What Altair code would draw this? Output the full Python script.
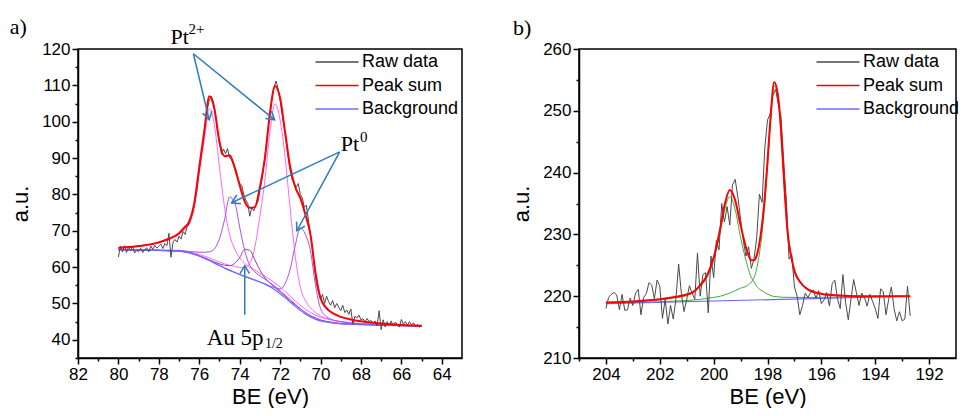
import math
import altair as alt
import pandas as pd

# ---------------- panel a) Pt 4f region ----------------
grid_a = [80, 79, 78, 77.5, 77, 76.75, 76.5, 76.25, 76, 75.75,
          75.5, 75.25, 75, 74.75, 74.5, 74.25, 74, 73.75, 73.5, 73.25,
          73, 72.75, 72.5, 72.25, 72, 71.75, 71.5, 71.25, 71, 70.75,
          70.5, 70.25, 70, 69.75, 69.5, 69, 68.5, 68, 67, 66,
          65]
bg_a = [64.8, 64.7, 64.6, 64.5, 64.4, 64.2, 63.9, 63.5, 63.0, 62.4,
        61.8, 61.1, 60.4, 59.7, 59.1, 58.5, 57.9, 57.4, 56.9, 56.4,
        55.9, 55.3, 54.6, 53.7, 52.7, 51.6, 50.4, 49.2, 48.1, 47.1,
        46.3, 45.7, 45.2, 44.9, 44.7, 44.4, 44.3, 44.2, 44.0, 43.9,
        43.8]
pt2_a1 = [65.2, 65.7, 66.6, 67.6, 69.0, 70.3, 71.7, 76.3, 85.8, 95.0,
          103.7, 99.0, 87.5, 76.5, 69.0, 65.0, 62.6, 61.0, 60.0, 59.2,
          58.3, 57.5, 56.6, 55.6, 54.5, 53.3, 52.0, 50.7, 49.5, 48.4,
          47.5, 46.8, 46.2, 45.8, 45.5, 45.0, 44.7, 44.5, 44.2, 44.0,
          43.9]
pt0_a1 = [64.8, 64.7, 64.6, 64.5, 64.5, 64.4, 64.3, 64.2, 64.1, 64.1,
          64.2, 65.0, 67.8, 73.0, 79.3, 77.8, 71.0, 64.5, 60.5, 58.7,
          57.6, 56.7, 55.7, 54.7, 53.5, 52.3, 51.0, 49.8, 48.6, 47.5,
          46.7, 46.0, 45.5, 45.1, 44.9, 44.5, 44.4, 44.3, 44.1, 43.9,
          43.8]
au_a = [64.8, 64.7, 64.6, 64.5, 64.4, 64.2, 64.0, 63.6, 63.1, 62.6,
        62.0, 61.4, 60.9, 60.5, 60.4, 61.0, 62.6, 64.9, 64.6, 62.0,
        59.2, 57.0, 55.6, 54.4, 53.2, 52.0, 50.8, 49.6, 48.5, 47.5,
        46.6, 46.0, 45.4, 45.1, 44.8, 44.5, 44.3, 44.2, 44.0, 43.9,
        43.8]
pt2_a2 = [64.9, 64.8, 64.8, 64.7, 64.6, 64.5, 64.2, 63.9, 63.5, 63.0,
          62.5, 62.0, 61.4, 60.9, 60.5, 60.2, 59.9, 59.8, 61.0, 65.5,
          74.0, 84.0, 97.4, 104.9, 100.5, 90.0, 76.0, 63.0, 54.5, 50.8,
          48.8, 47.5, 46.6, 46.0, 45.6, 45.0, 44.6, 44.4, 44.1, 43.9,
          43.8]
pt0_a2 = [64.8, 64.7, 64.6, 64.5, 64.4, 64.3, 64.0, 63.6, 63.1, 62.5,
          61.9, 61.2, 60.5, 59.8, 59.2, 58.6, 58.0, 57.5, 57.0, 56.5,
          55.9, 55.4, 54.8, 54.3, 54.0, 55.5, 59.5, 66.0, 70.8, 69.0,
          64.5, 55.0, 48.6, 46.6, 45.7, 45.0, 44.6, 44.4, 44.1, 43.9,
          43.8]
sum_a = [65.3, 65.8, 66.8, 67.8, 69.3, 70.8, 72.5, 77.5, 87.5, 97.5,
         107.0, 103.5, 94.5, 90.5, 90.8, 87.5, 82.5, 78.0, 76.3, 76.5,
         82.0, 90.0, 102.5, 109.8, 106.5, 97.0, 87.5, 82.0, 79.0, 74.5,
         69.0, 58.5, 51.5, 49.0, 47.7, 46.3, 45.6, 45.1, 44.5, 44.1,
         43.9]
raw_a_start, raw_a_step = 80.0, -0.1
raw_a = [62.8, 65.8, 64.2, 65.9, 64.0, 65.5, 64.5, 65.8, 63.9, 64.6,
         64.3, 65.2, 64.0, 64.8, 65.3, 64.2, 65.8, 64.9, 66.0, 65.2,
         65.8, 66.3, 65.1, 66.5, 65.9, 69.3, 62.7, 66.8, 67.6, 66.9,
         68.5, 67.7, 69.8, 69.0, 71.2, 72.0, 73.8, 75.5, 78.5, 82.0,
         87.0, 91.0, 95.0, 99.5, 103.5, 106.0, 107.0, 105.5, 102.0, 97.5,
         94.0, 91.0, 92.5, 91.2, 92.6, 90.0, 89.5, 88.0, 86.0, 84.5,
         83.0, 82.5, 80.0, 78.5, 77.5, 74.0, 76.5, 75.5, 77.0, 78.0,
         81.0, 84.0, 88.5, 93.0, 98.0, 102.0, 106.5, 109.5, 111.2, 109.0,
         106.0, 102.0, 98.5, 94.5, 90.0, 86.5, 84.0, 83.0, 82.0, 83.0,
         80.0, 79.0, 76.5, 77.0, 73.0, 69.0, 65.0, 60.0, 55.5, 53.0,
         51.0, 52.5, 50.0, 52.0, 50.5, 49.5, 50.8, 48.8, 50.0, 49.0,
         48.0, 49.5, 47.5, 48.2, 47.0, 48.5, 44.3, 46.5, 46.0, 46.8,
         45.5, 45.8, 44.8, 45.9, 45.0, 45.3, 44.5, 45.2, 43.8, 48.0,
         42.8, 45.5, 43.5, 45.0, 44.0, 45.2, 43.8, 44.9, 44.2, 43.5,
         45.6, 44.3, 45.0, 44.0, 45.0, 44.1, 44.7, 43.6, 44.2, 43.5,
         44.0]

# annotations a)
ann_a_text = ["a)", "Pt", "2+", "Pt", "0", "Au 5p", "1/2"]
ann_a_x = [85.38, 77.42, 76.53, 69.0, 68.05, 75.63, 72.75]
ann_a_y = [124.0, 121.5, 124.1, 91.95, 94.4, 38.7, 37.8]
ann_a_fs = [22, 22, 15, 22, 15, 23, 14]
arr_a_x1 = [76.29, 76.29, 69.05, 69.05, 73.75]
arr_a_y1 = [118.7, 118.7, 91.7, 91.7, 46.9]
arr_a_x2 = [75.51, 72.27, 74.40, 71.17, 73.75]
arr_a_y2 = [100.5, 100.5, 77.7, 70.0, 60.4]

# ---------------- panel b) ----------------
grid_b = [204, 203, 202, 201.5, 201, 200.75, 200.5, 200.25, 200, 199.75,
          199.6, 199.4, 199.2, 199, 198.75, 198.6, 198.5, 198.4, 198.25, 198.1,
          198, 197.9, 197.75, 197.6, 197.5, 197.4, 197.25, 197.1, 197, 196.75,
          196.5, 196, 195.5, 195, 194, 192.7]
comp_b1 = [218.95, 219.1, 219.4, 219.7, 220.1, 220.6, 221.6, 223.0, 225.8, 230.5,
           233.8, 236.1, 234.0, 229.5, 225.0, 223.0, 222.3, 221.6, 221.0, 220.6,
           220.35, 220.15, 219.95, 219.9, 219.85, 219.83, 219.82, 219.81, 219.8, 219.8,
           219.8, 219.82, 219.86, 219.9, 219.95, 220.02]
comp_b2 = [218.85, 218.95, 219.1, 219.2, 219.3, 219.4, 219.5, 219.65, 219.8, 220.0,
           220.2, 220.5, 220.9, 221.3, 221.7, 222.3, 223.0, 224.5, 228.5, 235.0,
           241.0, 247.5, 254.1, 251.8, 246.8, 239.5, 230.0, 225.8, 224.0, 222.0,
           221.0, 220.3, 220.1, 220.0, 219.95, 219.95]
sum_b = [219.0, 219.15, 219.5, 219.83, 220.27, 220.7, 221.8, 223.3, 226.25, 231.1,
         234.6, 237.2, 235.5, 231.5, 227.2, 225.8, 225.8, 226.6, 230.0, 236.05,
         241.8, 248.1, 254.6, 252.1, 247.0, 239.7, 230.2, 226.0, 224.1, 222.1,
         221.1, 220.4, 220.15, 220.05, 220.0, 220.0]
bg_b_x = [204, 192.7]
bg_b = [218.8, 220.0]
raw_b_start, raw_b_step = 204.0, -0.1
raw_b = [218.0, 219.8, 220.3, 220.6, 220.2, 217.8, 220.3, 217.7, 217.8, 219.7,
         218.5, 220.5, 221.1, 217.0, 219.8, 220.4, 222.2, 221.8, 219.6, 222.6,
         221.6, 216.4, 219.5, 215.5, 218.5, 216.3, 219.6, 225.2, 220.5, 217.5,
         219.5, 221.7, 220.5, 219.5, 227.0, 220.0, 223.5, 223.8, 217.3, 226.5,
         223.0, 229.0, 227.5, 235.0, 232.0, 234.5, 231.5, 238.0, 238.9, 236.0,
         232.5, 229.0, 226.5, 228.0, 224.5, 226.0, 229.5, 236.5, 235.2, 244.0,
         248.5, 249.5, 252.5, 253.5, 251.0, 249.0, 242.0, 235.5, 226.0, 226.8,
         221.5, 220.0, 217.0, 218.5, 220.5, 219.8, 220.6, 221.0, 219.7, 220.9,
         218.8, 219.4, 220.6, 218.4, 222.0, 222.6, 219.6, 218.0, 223.5, 219.0,
         216.2, 219.5, 222.7, 220.6, 218.5, 220.5, 219.8, 218.4, 220.3, 219.2,
         218.0, 216.4, 221.2, 220.7, 217.0, 219.5, 221.5, 218.0, 216.0, 217.5,
         216.0, 216.3, 221.6, 216.8]
ann_b_text = ["b)"]
ann_b_x = [207.45]
ann_b_y = [262.3]
ann_b_fs = [22]

SERIES = ["Raw data", "Peak sum", "Background"]

# ---------------- styling ----------------
W_A, W_B, H = 384, 377, 309
XA_DOM, YA_DOM = [82, 63], [35, 120]
XB_DOM, YB_DOM = [205, 191], [210, 260]
FONT, SERIF = "Liberation Sans", "Liberation Serif"
ARROW = "#2b7bbd"


def encs(xdom, ydom, xvals, yvals):
    x = alt.X("x:Q", scale=alt.Scale(domain=xdom, nice=False, zero=False),
              axis=alt.Axis(values=xvals, title="BE (eV)", format="d",
                            labelExpr="datum.value % 2 === 0 ? datum.label : ''",
                            tickSize={"condition": {"test": "datum.value % 2 === 0", "value": 6}, "value": 3},
                            labelPadding=2, titlePadding=4, labelFlush=False, labelOverlap=False))
    y = alt.Y("y:Q", scale=alt.Scale(domain=ydom, nice=False, zero=False),
              axis=alt.Axis(values=yvals, title="a.u.", format="d",
                            labelExpr="datum.value % 10 === 0 ? datum.label : ''",
                            tickSize={"condition": {"test": "datum.value % 10 === 0", "value": 6}, "value": 3},
                            labelPadding=2, titlePadding=9, labelOverlap=False))
    return x, y


def color_enc(rng):
    return alt.Color("series:N", scale=alt.Scale(domain=SERIES, range=rng),
                     legend=alt.Legend(orient="none", legendX=250, legendY=4, title=None,
                                       symbolType="M -10 0 L 10 0", symbolSize=18.5,
                                       symbolStrokeWidth=1.5, labelFont=FONT, labelFontSize=18,
                                       labelColor="black", labelOffset=16, rowPadding=5.5,
                                       padding=0))


def panel(xdom, ydom, xvals, yvals, width, grid, comps, bg_x, bg_y, raw_start, raw_step, raw,
          sm, ann, arrows, rng, bg_interp):
    x, y = encs(xdom, ydom, xvals, yvals)
    layers = []
    for vals, col in comps:
        d = pd.DataFrame({"x": grid, "y": vals})
        layers.append(alt.Chart(d).mark_line(interpolate="monotone", strokeWidth=1, color=col)
                      .encode(x=x, y=y))
    col = color_enc(rng)
    dbg = pd.DataFrame({"x": bg_x, "y": bg_y, "series": "Background"})
    layers.append(alt.Chart(dbg).mark_line(interpolate=bg_interp, strokeWidth=1.2).encode(x=x, y=y, color=col))
    draw = pd.DataFrame({"x": [round(raw_start + raw_step * i, 2) for i in range(len(raw))],
                         "y": raw, "series": "Raw data"})
    layers.append(alt.Chart(draw).mark_line(strokeWidth=1).encode(x=x, y=y, color=col))
    dsum = pd.DataFrame({"x": grid, "y": sm, "series": "Peak sum"})
    layers.append(alt.Chart(dsum).mark_line(interpolate="monotone", strokeWidth=2).encode(x=x, y=y, color=col))
    if arrows is not None:
        x1, y1, x2, y2 = arrows
        sx = width / abs(xdom[0] - xdom[1])
        sy = H / abs(ydom[1] - ydom[0])
        ang = [math.degrees(math.atan2((a - b) * sy, (c - d) * sx)) % 360
               for a, b, c, d in zip(y1, y2, x1, x2)]
        da = pd.DataFrame({"x": x1, "y": y1, "x2": x2, "y2": y2})
        layers.append(alt.Chart(da).mark_rule(color=ARROW, strokeWidth=1.5)
                      .encode(x=x, y=y, x2="x2:Q", y2="y2:Q"))
        dh = pd.DataFrame({"x": x2, "y": y2, "ang": ang})
        layers.append(alt.Chart(dh).mark_point(shape="M -1 -0.6 L 0 0 L -1 0.6", filled=False,
                                               size=256, color=ARROW, strokeWidth=1.5, opacity=1)
                      .encode(x=x, y=y, angle=alt.Angle("ang:Q", scale=None)))
    t, tx, ty, fs = ann
    dt = pd.DataFrame({"x": tx, "y": ty, "t": t, "fs": fs})
    layers.append(alt.Chart(dt).mark_text(align="left", baseline="alphabetic", font=SERIF, color="black")
                  .encode(x=x, y=y, text="t:N", size=alt.Size("fs:Q", scale=None)))
    return alt.layer(*layers).properties(width=width, height=H)


pa = panel(XA_DOM, YA_DOM, list(range(64, 83)), list(range(35, 121, 5)), W_A, grid_a,
           [(pt2_a1, "#ff66ff"), (pt2_a2, "#ff66ff"), (au_a, "#993f99"),
            (pt0_a1, "#a64dff"), (pt0_a2, "#a64dff")],
           grid_a, bg_a, raw_a_start, raw_a_step, raw_a, sum_a,
           (ann_a_text, ann_a_x, ann_a_y, ann_a_fs),
           (arr_a_x1, arr_a_y1, arr_a_x2, arr_a_y2),
           ["#4a4a4a", "#ff0000", "#6b6bff"], "monotone")

pb = panel(XB_DOM, YB_DOM, list(range(192, 206)), list(range(210, 261, 5)), W_B, grid_b,
           [(comp_b1, "#3caa3c"), (comp_b2, "#3caa3c")],
           bg_b_x, bg_b, raw_b_start, raw_b_step, raw_b, sum_b,
           (ann_b_text, ann_b_x, ann_b_y, ann_b_fs), None,
           ["#4a4a4a", "#ff0000", "#6b6bff"], "linear")

chart = (alt.hconcat(pa, pb, spacing=46)
         .resolve_scale(x="independent", y="independent", color="independent")
         .properties(padding={"left": 0, "top": 7, "right": 0, "bottom": 0}, background="white")
         .configure_axis(labelFont=FONT, titleFont=FONT, labelFontSize=17, titleFontSize=22,
                         titleFontWeight="normal", labelColor="black", titleColor="black",
                         tickColor="black", domainColor="black", tickWidth=1.5, domainWidth=1.5,
                         grid=False)
         .configure_view(stroke="black", strokeWidth=1.5))

chart.save("out.html", embed_options={"renderer": "svg", "actions": False})
